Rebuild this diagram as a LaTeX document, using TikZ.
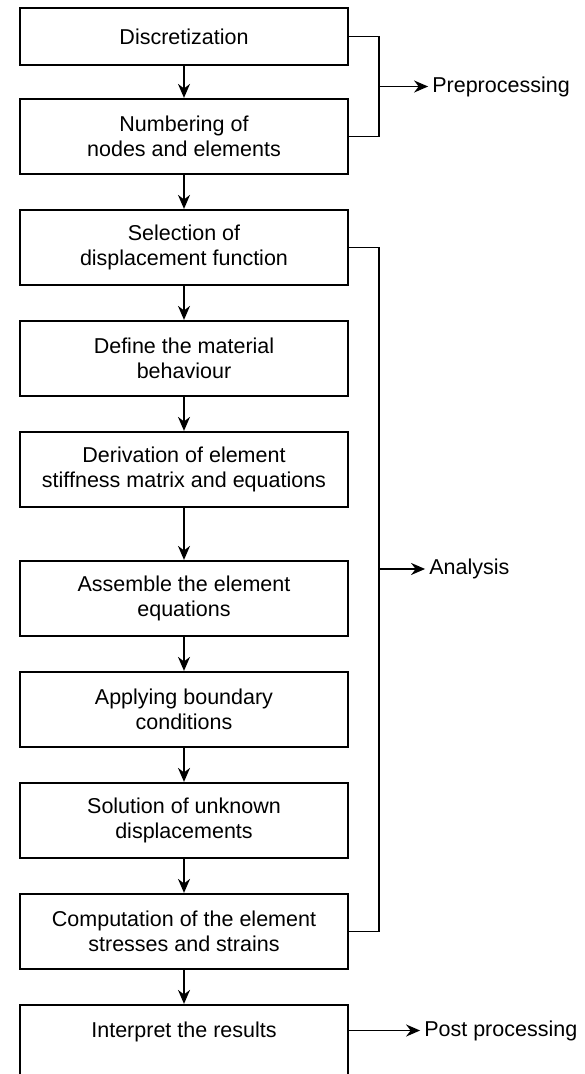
\documentclass[tikz,border=0pt]{standalone}
\usepackage{fontspec}
\setmainfont{Liberation Sans}
\usetikzlibrary{arrows.meta,calc,positioning}
\tikzset{stage/.style={shape=rectangle, draw=black, line width=2.2pt, minimum width=328pt, minimum height=75pt, align=center, font=\fontsize{21.5}{25}\selectfont}}
\tikzset{flow/.style={draw=black, line width=1.8pt, -{Stealth[length=14pt,width=12pt]}}}
\tikzset{tag/.style={anchor=west, inner sep=4pt, font=\fontsize{21.5}{25}\selectfont}}

\begin{document}
\begin{tikzpicture}[node distance = 111pt]
  \useasboundingbox (0,0) rectangle (584pt,-1074pt);

  \node (disc) [stage, minimum height = 57pt] at (184pt,-36.5pt) {Discretization};
  \node (num) [stage, node distance = 100pt, below of = disc] {Numbering of\\nodes and elements};
  \node (sel) [stage, below of = num] {Selection of\\displacement function};
  \node (mat) [stage, below of = sel] {Define the material\\behaviour};
  \node (stiff) [stage, below of = mat] {Derivation of element\\stiffness matrix and equations};
  \node (asm) [stage, node distance = 129pt, below of = stiff] {Assemble the element\\equations};
  \node (bc) [stage, below of = asm] {Applying boundary\\conditions};
  \node (sol) [stage, below of = bc] {Solution of unknown\\displacements};
  \node (comp) [stage, below of = sol] {Computation of the element\\stresses and strains};
  \node (res) [stage, text depth = 25pt, below of = comp] {Interpret the results};

  \path[flow] (disc) edge (num);
  \path[flow] (num) edge (sel);
  \path[flow] (sel) edge (mat);
  \path[flow] (mat) edge (stiff);
  \path[flow] (stiff) edge (asm);
  \path[flow] (asm) edge (bc);
  \path[flow] (bc) edge (sol);
  \path[flow] (sol) edge (comp);
  \path[flow] (comp) edge (res);

  % brackets to the right
  \draw[line width=1.8pt] (disc.east) -- ++(30pt,0) |- (num.east);
  \draw[line width=1.8pt] (sel.east) -- ++(30pt,0) |- (comp.east);

  \coordinate (prein) at ($(disc.east)!0.5!(num.east)+(30pt,0)$);
  \coordinate (anain) at ($(sel.east)!0.47!(comp.east)+(30pt,0)$);
  \coordinate (postin) at ($(res.east)+(0,12pt)$);

  \node (pre) [tag] at ($(prein)+(49pt,0)$) {Preprocessing};
  \node (ana) [tag] at ($(anain)+(46pt,0)$) {Analysis};
  \node (post) [tag] at ($(postin)+(71pt,0)$) {Post processing};

  \draw[flow] (prein) -- (pre.west);
  \draw[flow] (anain) -- (ana.west);
  \draw[flow] (postin) -- (post.west);
\end{tikzpicture}
\end{document}
